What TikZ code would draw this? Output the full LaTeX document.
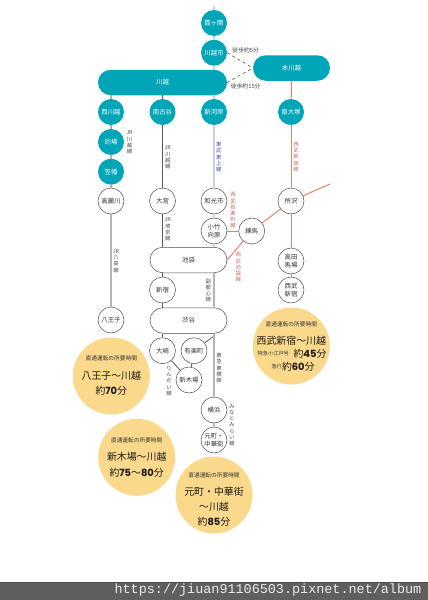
\documentclass[tikz,border=0pt]{standalone}
\usepackage{xcolor,fontspec}
\usetikzlibrary{shapes.misc}
\setmainfont{Noto Sans CJK JP}
\newfontfamily\numfont{Poppins}
\newfontfamily\urlfont{Liberation Mono}
\definecolor{teal}{HTML}{00A5B8}
\definecolor{cream}{HTML}{FBD98C}
\definecolor{tobu}{HTML}{C3D4E8}
\definecolor{seibu}{HTML}{E8806F}
\definecolor{jrgray}{HTML}{B4B4B4}
\definecolor{jrdark}{HTML}{5A5A5A}
\definecolor{barcol}{HTML}{5F5F5F}
\tikzset{
  tealst/.style={circle,fill=teal,text=white,minimum size=26pt,inner sep=0pt,font=\fontsize{6.4}{7.4}\selectfont,align=center},
  whitest/.style={circle,draw=black!70,line width=.5pt,fill=white,text=black!80,minimum size=26pt,inner sep=0pt,font=\fontsize{6.4}{7.8}\selectfont,align=center},
  tealpill/.style={rounded rectangle,fill=teal,text=white,minimum height=25.5pt,inner sep=0pt,font=\fontsize{6.4}{7.4}\selectfont},
  whitepill/.style={rounded rectangle,draw=black!70,line width=.5pt,fill=white,text=black!80,minimum height=25.5pt,minimum width=77pt,inner sep=0pt,font=\fontsize{6.4}{7.4}\selectfont},
  timecircle/.style={circle,fill=cream,minimum size=77pt,inner sep=0pt},
  linelabel/.style={inner sep=0pt,align=center,text=black!70,font=\fontsize{5.4}{6.2}\selectfont},
  smalltime/.style={inner sep=0pt,text=black!80,font=\fontsize{5.7}{6.5}\selectfont},
  bigtime/.style={inner sep=0pt,text=black!90,font=\fontsize{9.9}{11}\selectfont},
  tobuline/.style={tobu,line width=1.5pt},
  seibuline/.style={seibu,line width=1pt},
  grayline/.style={jrgray,line width=1.5pt},
  darkline/.style={jrdark,line width=.8pt},
  walkline/.style={black!70,line width=.6pt,dashed}
}
\begin{document}
\begin{tikzpicture}[x=1pt,y=-1pt]
\useasboundingbox (0,0) rectangle (428,600);
% top of the map
\node[tealst] (kasumi) at (214,23) {霞ヶ関};
\node[tealst] (kawashi) at (214,52.7) {川越市};
\node[tealpill,minimum width=129pt] (kawagoe) at (162.5,82.5) {川越};
\node[tealpill,minimum width=77pt] (honkawa) at (291.5,68) {本川越};
\node[tealst] (nishikawa) at (111,112) {西川越};
\node[tealst] (minami) at (162.5,112) {南古谷};
\node[tealst] (shingashi) at (214,112) {新河岸};
\node[tealst] (otsuka) at (291,112) {南大塚};
\node[tealst] (matoba) at (111,142) {的場};
\node[tealst] (kasahata) at (111,171.7) {笠幡};
% middle
\node[whitest] (komagawa) at (111,201) {高麗川};
\node[whitest] (omiya) at (162.5,201) {大宮};
\node[whitest] (wako) at (214,201) {和光市};
\node[whitest] (tokoro) at (291,201) {所沢};
\node[whitest] (kotake) at (214,231) {小竹\\向原};
\node[whitest] (nerima) at (251.7,231) {練馬};
\node[whitepill] (ikebu) at (188.5,260) {池袋};
\node[whitest] (shinjuku) at (162.5,290) {新宿};
\node[whitepill] (shibuya) at (188.5,320.5) {渋谷};
\node[whitest] (hachi) at (111,320) {八王子};
\node[whitest] (takada) at (291,261) {高田\\馬場};
\node[whitest] (seishin) at (291,290) {西武\\新宿};
% bottom
\node[whitest] (osaki) at (162.5,350.7) {大崎};
\node[whitest] (yuraku) at (194,350.7) {有楽町};
\node[whitest] (shinkiba) at (189,380) {新木場};
\node[whitest] (yokohama) at (214,410) {横浜};
\node[whitest] (motomachi) at (214,440) {元町・\\中華街};
\coordinate (stub) at (214,6);
\coordinate (seibuout) at (330,184);
\coordinate (toyoko) at (214,336);
% connectors
\draw[tobuline] (stub)--(kasumi);
\draw[tobuline] (kasumi)--(kawashi);
\draw[tobuline] (kawashi)--(kawashi|-kawagoe.north);
\draw[tobuline] (shingashi|-kawagoe.south)--(shingashi);
\draw[tobuline] (shingashi)--(wako);
\draw[tobuline] (wako)--(kotake);
\draw[tobuline] (kotake)--(kotake|-ikebu.north);
\draw[walkline] (kawashi.east)--(honkawa.west);
\draw[walkline] (kawagoe.east)--(honkawa.west);
\draw[grayline] (nishikawa|-kawagoe.south)--(nishikawa);
\draw[grayline] (nishikawa)--(matoba);
\draw[grayline] (matoba)--(kasahata);
\draw[grayline] (kasahata)--(komagawa);
\draw[grayline,line width=2pt] (komagawa)--(hachi);
\draw[darkline] (minami|-kawagoe.south)--(minami);
\draw[darkline] (minami)--(omiya);
\draw[darkline] (omiya)--(omiya|-ikebu.north);
\draw[darkline] (shinjuku|-ikebu.south)--(shinjuku);
\draw[darkline] (shinjuku)--(shinjuku|-shibuya.north);
\draw[darkline] (osaki|-shibuya.south)--(osaki);
\draw[darkline] (osaki)--(shinkiba);
\draw[darkline] (yuraku)--(shinkiba);
\draw[darkline] (yuraku)--(toyoko);
\draw[grayline] (kotake|-ikebu.south)--(kotake|-shibuya.north);
\draw[grayline] (kotake|-shibuya.south)--(yokohama);
\draw[grayline] (yokohama)--(motomachi);
\draw[seibuline] (honkawa.south)--(otsuka);
\draw[seibuline] (otsuka)--(tokoro);
\draw[seibuline] (tokoro)--(takada);
\draw[seibuline] (takada)--(seishin);
\draw[seibuline] (tokoro)--(seibuout);
\draw[seibuline] (tokoro)--(nerima);
\draw[seibuline] (kotake)--(nerima);
\draw[seibuline] (nerima)--(ikebu.east);
% line names
\node[inner sep=0pt,text=black!75,font=\fontsize{5.8}{6.6}\selectfont] (walka) at (245.7,50.7) {徒歩約5分};
\node[inner sep=0pt,text=black!75,font=\fontsize{5.8}{6.6}\selectfont] (walkb) at (245.7,86) {徒歩約15分};
\node[linelabel] (kawaline) at (129.5,142.5) {JR\\川\\越\\線};
\node[linelabel] (kawalineb) at (167.7,157.5) {JR\\川\\越\\線};
\node[linelabel,text=blue!55!black!70] (tojo) at (218.7,157) {東\\武\\東\\上\\線};
\node[linelabel,text=seibu!85!black] (shinjukuline) at (296,157) {西\\武\\新\\宿\\線};
\node[linelabel,text=seibu!85!black] (yurakuline) at (233,210.5) {西\\武\\有\\楽\\町\\線};
\node[linelabel] (saikyo) at (167.7,229.5) {JR\\埼\\京\\線};
\node[linelabel] (hachiko) at (116,261) {JR\\八\\高\\線};
\node[linelabel,text=seibu!85!black] (ikeline) at (238.3,267.5) {西\\武\\池\\袋\\線};
\node[linelabel] (fukutoshin) at (208.3,290.5) {副\\都\\心\\線};
\node[linelabel] (toyokoline) at (219,368) {東\\急\\東\\横\\線};
\node[linelabel] (rinkai) at (169,381) {り\\ん\\か\\い\\線};
\node[linelabel] (minato) at (231.7,425) {み\\な\\と\\み\\ら\\い\\線};
% travel times
\node[timecircle] (timea) at (111.3,376) {};
\node[timecircle] (timeb) at (291.3,346) {};
\node[timecircle] (timec) at (136.7,457.3) {};
\node[timecircle] (timed) at (214,495) {};
\node[smalltime] (aone) at (111.3,358.7) {直通運転の所要時間};
\node[bigtime] (atwo) at (111.3,376) {八王子〜川越};
\node[bigtime] (athree) at (111.3,390.7) {約{\numfont\bfseries 70}分};
\node[smalltime] (bone) at (291.3,324.7) {直通運転の所要時間};
\node[bigtime] (btwo) at (291.3,340.7) {西武新宿〜川越};
\node[smalltime,font=\fontsize{5.2}{6}\selectfont] (bthree) at (273.3,353.3) {特急小江戸号};
\node[bigtime] (bfour) at (310,353.3) {約{\numfont\bfseries 45}分};
\node[smalltime,font=\fontsize{5.2}{6}\selectfont] (bfive) at (276.7,366.7) {急行};
\node[bigtime] (bsix) at (298.3,366.7) {約{\numfont\bfseries 60}分};
\node[smalltime] (cone) at (136.7,440.3) {直通運転の所要時間};
\node[bigtime] (ctwo) at (136.7,457) {新木場〜川越};
\node[bigtime] (cthree) at (136.7,472.3) {約{\numfont\bfseries 75}〜{\numfont\bfseries 80}分};
\node[smalltime] (done) at (214,475.3) {直通運転の所要時間};
\node[bigtime] (dtwo) at (214,492) {元町・中華街};
\node[bigtime] (dthree) at (214,506.7) {〜川越};
\node[bigtime] (dfour) at (214,521.7) {約{\numfont\bfseries 85}分};
% url bar
\fill[barcol] (0,582) rectangle (428,600);
\draw[black!70,line width=.6pt] (0,582)--(428,582);
\node[anchor=east,inner sep=0pt,text=white!92!black,font=\urlfont\fontsize{13.45}{15}\selectfont] (url) at (421.5,590.5) {https://jiuan91106503.pixnet.net/album};
\end{tikzpicture}
\end{document}
